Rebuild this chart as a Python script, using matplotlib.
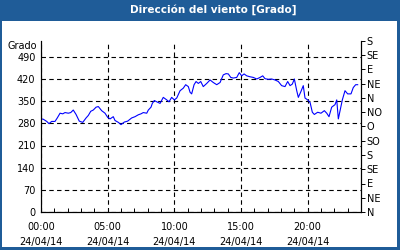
import matplotlib
matplotlib.use('Agg')
import matplotlib.pyplot as plt
from matplotlib.ticker import MultipleLocator, FixedLocator

# hours since 00:00 on 24/04/14, wind direction in degrees
hours = [0.0, 0.17, 0.43, 0.6, 0.8, 1.05, 1.22, 1.43, 1.63, 1.8, 2.05, 2.23,
         2.42, 2.63, 2.87, 3.13, 3.38, 3.55, 3.73, 3.92, 4.13, 4.3, 4.55, 4.8,
         5.0, 5.18, 5.42, 5.55, 5.8, 6.0, 6.25, 6.5, 6.8, 7.05, 7.3, 7.5, 7.67,
         7.93, 8.05, 8.25, 8.35, 8.5, 8.68, 8.93, 9.17, 9.43, 9.6, 9.8, 10.0,
         10.18, 10.43, 10.67, 10.85, 11.05, 11.18, 11.3, 11.48, 11.63, 11.8,
         11.98, 12.17, 12.43, 12.68, 12.92, 13.18, 13.43, 13.67, 13.88, 14.05,
         14.23, 14.42, 14.68, 14.87, 15.05, 15.23, 15.43, 15.68, 15.92, 16.18,
         16.43, 16.63, 16.8, 17.05, 17.3, 17.55, 17.8, 18.05, 18.3, 18.5, 18.68,
         18.85, 19.0, 19.18, 19.3, 19.5, 19.67, 19.8, 20.0, 20.18, 20.35, 20.5,
         20.75, 21.0, 21.25, 21.43, 21.6, 21.8, 22.05, 22.18, 22.3, 22.43, 22.6,
         22.8, 23.0, 23.25, 23.42, 23.6, 23.75]
grados = [294, 293, 286, 279, 286, 286, 297, 312, 310, 314, 312, 314,
          322, 308, 287, 283, 297, 305, 318, 322, 331, 333, 320, 312,
          299, 294, 301, 289, 283, 276, 284, 287, 297, 301, 307, 310, 314,
          312, 322, 331, 343, 352, 348, 343, 362, 354, 348, 362, 354,
          360, 383, 391, 402, 396, 378, 373, 402, 412, 406,
          412, 396, 406, 417, 409, 402, 409, 433, 437, 436,
          425, 423, 425, 440, 430, 436, 430, 427, 425, 420,
          425, 430, 421, 419, 420, 417, 412, 399, 396, 412, 399,
          404, 420, 383, 362, 381, 399, 360, 354, 346, 315, 308,
          315, 312, 320, 312, 301, 331, 339, 354, 294, 320, 354,
          383, 373, 373, 393, 402, 402]

left_ticks = [0, 70, 140, 210, 280, 350, 420, 490]
right_ticks = [0, 45, 90, 135, 180, 225, 270, 315, 360, 405, 450, 495, 540]
right_labels = ['N', 'NE', 'E', 'SE', 'S', 'SO', 'O', 'NO', 'N', 'NE', 'E', 'SE', 'S']
x_ticks = [0, 5, 10, 15, 20]
x_labels = ['00:00\n24/04/14', '05:00\n24/04/14', '10:00\n24/04/14',
            '15:00\n24/04/14', '20:00\n24/04/14']

frame_blue = '#1f5c98'
fs = 7

fig = plt.figure(figsize=(4, 2.5), dpi=100, facecolor=frame_blue)
# white panel under the title bar
panel = plt.Rectangle((2 / 400, 3 / 250), 395 / 400, 226 / 250,
                      transform=fig.transFigure, facecolor='white',
                      edgecolor='none', zorder=-10)
fig.add_artist(panel)
fig.text(213 / 400, 1 - 10 / 250, 'Dirección del viento [Grado]', color='white',
         fontsize=7.5, fontweight='bold', ha='center', va='center')

ax = fig.add_axes([41 / 400, 1 - 212 / 250, 320 / 400, 171 / 250])
ax.set_facecolor('white')
ax.plot(hours, grados, color='#0000ff', lw=0.8, zorder=3)
ax.set_xlim(0, 24)
ax.set_ylim(0, 540)

ax.set_yticks(left_ticks)
ax.tick_params(axis='y', length=0, pad=4, labelsize=fs)
ax.set_xticks(x_ticks)
ax.set_xticklabels(x_labels, fontsize=fs, linespacing=1.6)
ax.xaxis.set_minor_locator(MultipleLocator(1))
ax.tick_params(axis='x', which='both', direction='in', length=3, width=0.7, pad=7)
ax.grid(True, color='black', linestyle=(0, (4, 3)), linewidth=0.8)

for side in ['left', 'bottom', 'right']:
    ax.spines[side].set_linewidth(0.8)
ax.spines['top'].set_visible(False)

ax2 = ax.twinx()
ax2.set_ylim(0, 540)
ax2.yaxis.set_major_locator(FixedLocator(right_ticks))
ax2.set_yticklabels(right_labels, fontsize=fs)
ax2.tick_params(axis='y', direction='out', length=3, width=0.7, pad=1)
ax2.spines['top'].set_visible(False)
ax2.spines['right'].set_linewidth(0.8)

fig.text(8 / 400, 1 - 46 / 250, 'Grado', fontsize=fs, ha='left', va='center')

fig.savefig('out.png', dpi=100, facecolor=frame_blue)
